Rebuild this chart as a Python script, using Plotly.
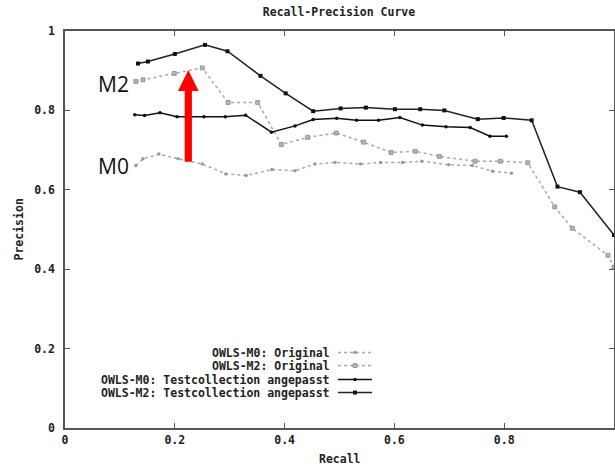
import plotly.graph_objects as go

# ---- data ----
m0_orig_x = [0.129, 0.142, 0.171, 0.206, 0.250, 0.293, 0.330, 0.377, 0.419, 0.455,
             0.492, 0.538, 0.575, 0.615, 0.650, 0.699, 0.742, 0.779, 0.813]
m0_orig_y = [0.661, 0.678, 0.690, 0.678, 0.665, 0.640, 0.636, 0.651, 0.648, 0.665,
             0.669, 0.665, 0.669, 0.669, 0.672, 0.663, 0.661, 0.647, 0.642]

m2_orig_x = [0.129, 0.142, 0.199, 0.250, 0.297, 0.351, 0.394, 0.442, 0.494, 0.544,
             0.594, 0.638, 0.682, 0.747, 0.793, 0.843, 0.892, 0.924, 0.989, 1.0]
m2_orig_y = [0.873, 0.877, 0.893, 0.907, 0.820, 0.820, 0.714, 0.732, 0.743, 0.720,
             0.694, 0.697, 0.684, 0.672, 0.672, 0.668, 0.557, 0.503, 0.435, 0.405]

m0_tc_x = [0.127, 0.145, 0.173, 0.204, 0.253, 0.292, 0.329, 0.376, 0.419, 0.452,
           0.495, 0.531, 0.571, 0.610, 0.651, 0.694, 0.738, 0.774, 0.804]
m0_tc_y = [0.789, 0.787, 0.794, 0.784, 0.784, 0.784, 0.788, 0.745, 0.761, 0.777,
           0.780, 0.775, 0.775, 0.782, 0.763, 0.759, 0.757, 0.735, 0.735]

m2_tc_x = [0.133, 0.151, 0.200, 0.255, 0.296, 0.356, 0.402, 0.452, 0.502, 0.548,
           0.601, 0.647, 0.691, 0.752, 0.799, 0.850, 0.897, 0.938, 1.0]
m2_tc_y = [0.918, 0.923, 0.942, 0.965, 0.949, 0.887, 0.843, 0.798, 0.805, 0.807,
           0.803, 0.803, 0.800, 0.778, 0.781, 0.775, 0.608, 0.594, 0.486]

series_names = ["OWLS-M0: Original", "OWLS-M2: Original",
                "OWLS-M0: Testcollection angepasst", "OWLS-M2: Testcollection angepasst"]
tick_vals = [0, 0.2, 0.4, 0.6, 0.8, 1]
tick_text = ["0", "0.2", "0.4", "0.6", "0.8", "1"]

# ---- layout geometry (pixels) ----
W, H = 615, 469
L, R, T, B = 65, 614, 31, 428.5


def xd(px):
    return (px - L) / (R - L)


def yd(py):
    return (B - py) / (B - T)


MONO = "DejaVu Sans Mono"
FS = 11.5
TXT = "#222222"
GRAY_LINE = "#a8a8a8"

styles = [
    dict(line=dict(color=GRAY_LINE, width=1.5, dash="dot"),
         marker=dict(symbol="circle", size=3.5, color="#9a9a9a")),
    dict(line=dict(color=GRAY_LINE, width=1.5, dash="dot"),
         marker=dict(symbol="square", size=4, color="#b5b5b5",
                     line=dict(color="#8a8a8a", width=0.8))),
    dict(line=dict(color="#111111", width=1.5),
         marker=dict(symbol="circle", size=3.5, color="#111111")),
    dict(line=dict(color="#222222", width=1.5),
         marker=dict(symbol="square", size=4, color="#111111")),
]
data = [(m0_orig_x, m0_orig_y), (m2_orig_x, m2_orig_y),
        (m0_tc_x, m0_tc_y), (m2_tc_x, m2_tc_y)]

fig = go.Figure()
for (xs, ys), st, name in zip(data, styles, series_names):
    fig.add_trace(go.Scatter(x=xs, y=ys, mode="lines+markers", name=name,
                             showlegend=False, cliponaxis=True, **st))

# ---- manual gnuplot-style legend ----
rows_py = [353, 366, 380, 393]
annotations = []
for py, st, name in zip(rows_py, styles, series_names):
    annotations.append(dict(x=xd(332), y=yd(py), xref="x", yref="y", text=name,
                            showarrow=False, xanchor="right", yanchor="middle",
                            font=dict(family=MONO, size=FS, color=TXT, weight="bold")))
    fig.add_trace(go.Scatter(x=[xd(338), xd(372)], y=[yd(py), yd(py)], mode="lines",
                             line=st["line"], showlegend=False, hoverinfo="skip"))
    fig.add_trace(go.Scatter(x=[xd(355)], y=[yd(py)], mode="markers",
                             marker=st["marker"], showlegend=False, hoverinfo="skip"))

# ---- M2 / M0 labels ----
for label, py in [("M2", 84), ("M0", 166)]:
    annotations.append(dict(x=xd(96), y=yd(py), xref="paper", yref="paper", text=label,
                            showarrow=False, xanchor="left", yanchor="middle",
                            font=dict(family="Open Sans", size=21, color="#111111")))

# ---- axis titles ----
annotations.append(dict(x=0.5, y=yd(460), xref="paper", yref="paper", text="Recall",
                        showarrow=False, xanchor="center", yanchor="middle",
                        font=dict(family=MONO, size=FS, color=TXT, weight="bold")))
annotations.append(dict(x=xd(18), y=0.5, xref="paper", yref="paper", text="Precision",
                        showarrow=False, textangle=-90, xanchor="center", yanchor="middle",
                        font=dict(family=MONO, size=FS, color=TXT, weight="bold")))

# ---- red arrow (shape) ----
cx = 188.3
shaft_hw, head_hw = 3.6, 10.3
tip_y, head_base_y, bottom_y = 70, 91, 162
pts = [(cx - shaft_hw, bottom_y), (cx - shaft_hw, head_base_y), (cx - head_hw, head_base_y),
       (cx, tip_y), (cx + head_hw, head_base_y), (cx + shaft_hw, head_base_y),
       (cx + shaft_hw, bottom_y)]
path = "M " + " L ".join(f"{xd(px):.5f},{yd(py):.5f}" for px, py in pts) + " Z"
shapes = [dict(type="path", path=path, xref="x", yref="y",
               fillcolor="#ff0000", line=dict(color="#ff0000", width=0), layer="above")]

axis_common = dict(range=[0, 1], tickvals=tick_vals, ticktext=tick_text,
                   ticks="inside", ticklen=5, tickwidth=1.2, tickcolor="#555555",
                   showline=True, linecolor="#555555", linewidth=1.5, mirror="ticks",
                   showgrid=False, zeroline=False, fixedrange=True, automargin=False,
                   tickfont=dict(family=MONO, size=FS, color=TXT, weight="bold"))

fig.update_layout(
    width=W, height=H, autosize=False,
    margin=dict(l=L, r=W - R, t=T, b=H - B, pad=0),
    paper_bgcolor="white", plot_bgcolor="white",
    title=dict(text="Recall-Precision Curve", x=(339) / W, xanchor="center",
               y=1 - 12 / H, yanchor="middle", yref="container",
               font=dict(family=MONO, size=FS, color=TXT, weight="bold")),
    xaxis=dict(**axis_common),
    yaxis=dict(**axis_common, ticklabelstandoff=6),
    annotations=annotations,
    shapes=shapes,
    showlegend=False,
)

fig.write_html(
    "out.html",
    config={"displayModeBar": False},
    post_script="document.body.style.margin='0';document.body.style.padding='0';"
                "document.body.style.overflow='hidden';"
                "document.documentElement.style.overflow='hidden';",
)
